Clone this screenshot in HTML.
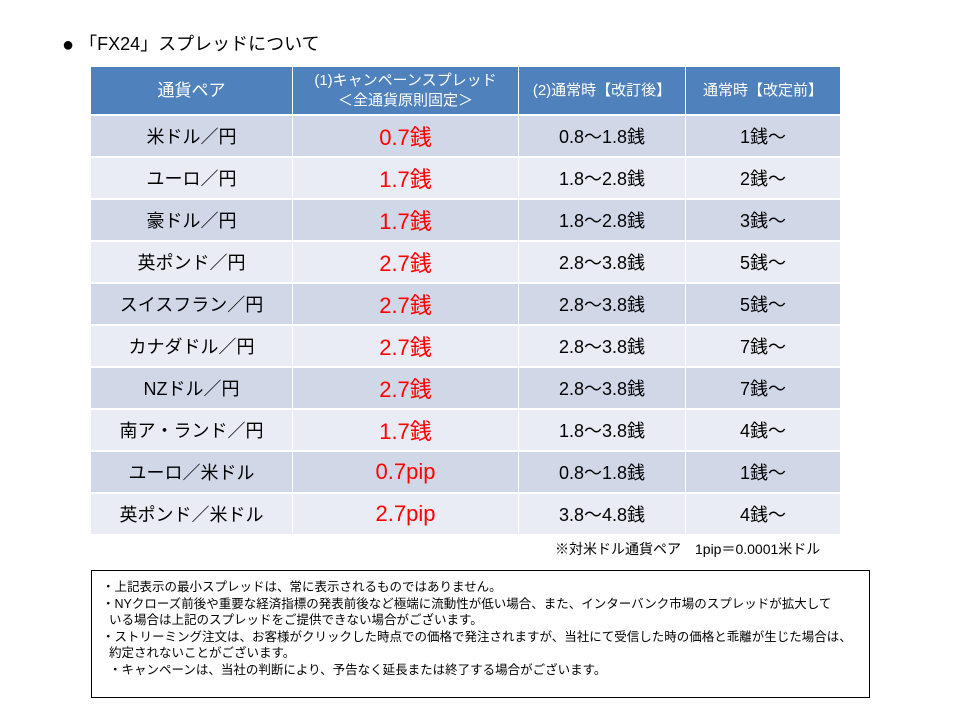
<!DOCTYPE html>
<html><head><meta charset="utf-8">
<style>
body{margin:0;background:#fff;font-family:"Liberation Sans","Noto Sans CJK JP",sans-serif;}
#page{position:relative;width:960px;height:720px;overflow:hidden;}
.title{position:absolute;left:62px;top:30px;font-size:18px;color:#000;}
.title b{font-size:20px;font-weight:normal;vertical-align:-1px;}
.cell{position:absolute;display:flex;align-items:center;justify-content:center;text-align:center;box-sizing:border-box;}
.hd{background:#4f81bd;color:#fff;font-size:17px;line-height:20px;}
.hd.small{font-size:15px;}
.r{font-size:18px;color:#000;}
.red{color:#ff0000;font-size:22px;}
.note{position:absolute;left:555px;top:539px;font-size:14px;}
.box{position:absolute;left:91px;top:570px;width:779px;height:128px;border:1px solid #000;box-sizing:border-box;padding:8px 10px;font-size:12.5px;line-height:16.5px;white-space:nowrap;}
</style></head><body>
<div id="page">
<div class="title"><b>●</b> 「FX24」スプレッドについて</div>
<div id="tbl"></div>
<div class="note">※対米ドル通貨ペア　1pip＝0.0001米ドル</div>
<div class="box">
・上記表示の最小スプレッドは、常に表示されるものではありません。<br>
・NYクローズ前後や重要な経済指標の発表前後など極端に流動性が低い場合、また、インターバンク市場のスプレッドが拡大して<br>
&nbsp;&nbsp;いる場合は上記のスプレッドをご提供できない場合がございます。<br>
・ストリーミング注文は、お客様がクリックした時点での価格で発注されますが、当社にて受信した時の価格と乖離が生じた場合は、<br>
&nbsp;&nbsp;約定されないことがございます。<br>
&nbsp;&nbsp;・キャンペーンは、当社の判断により、予告なく延長または終了する場合がございます。
</div>
</div>
<script>
const pairs=["米ドル／円","ユーロ／円","豪ドル／円","英ポンド／円","スイスフラン／円","カナダドル／円","NZドル／円","南ア・ランド／円","ユーロ／米ドル","英ポンド／米ドル"];
const campaign=["0.7銭","1.7銭","1.7銭","2.7銭","2.7銭","2.7銭","2.7銭","1.7銭","0.7pip","2.7pip"];
const after=["0.8～1.8銭","1.8～2.8銭","1.8～2.8銭","2.8～3.8銭","2.8～3.8銭","2.8～3.8銭","2.8～3.8銭","1.8～3.8銭","0.8～1.8銭","3.8～4.8銭"];
const before=["1銭～","2銭～","3銭～","5銭～","5銭～","7銭～","7銭～","4銭～","1銭～","4銭～"];
const headers=["通貨ペア","(1)キャンペーンスプレッド<br>＜全通貨原則固定＞","(2)通常時【改訂後】","通常時【改定前】"];
const cols=[91,292,518,685,840];
const t=document.getElementById('tbl');
function cell(x,y,w,h,cls,html,bg){
  const d=document.createElement('div');
  d.className='cell '+cls;
  d.style.left=x+'px';d.style.top=y+'px';d.style.width=w+'px';d.style.height=h+'px';
  if(bg)d.style.background=bg;
  d.innerHTML=html;
  t.appendChild(d);return d;
}
for(let c=0;c<4;c++){
  const d=cell(cols[c]+(c?1:0),67,cols[c+1]-cols[c]-(c?1:0),47,'hd'+(c>0?' small':''),headers[c]);
  
  
}
for(let i=0;i<pairs.length;i++){
  const y=116+i*42, h=40, bg=i%2?'#e9ecf4':'#d0d8e8';
  const vals=[pairs[i],campaign[i],after[i],before[i]];
  for(let c=0;c<4;c++){
    const d=cell(cols[c]+(c?1:0),y,cols[c+1]-cols[c]-(c?1:0),h,c==1?'red':'r',vals[c],bg);
    
    
  }
}
</script>
</body></html>
